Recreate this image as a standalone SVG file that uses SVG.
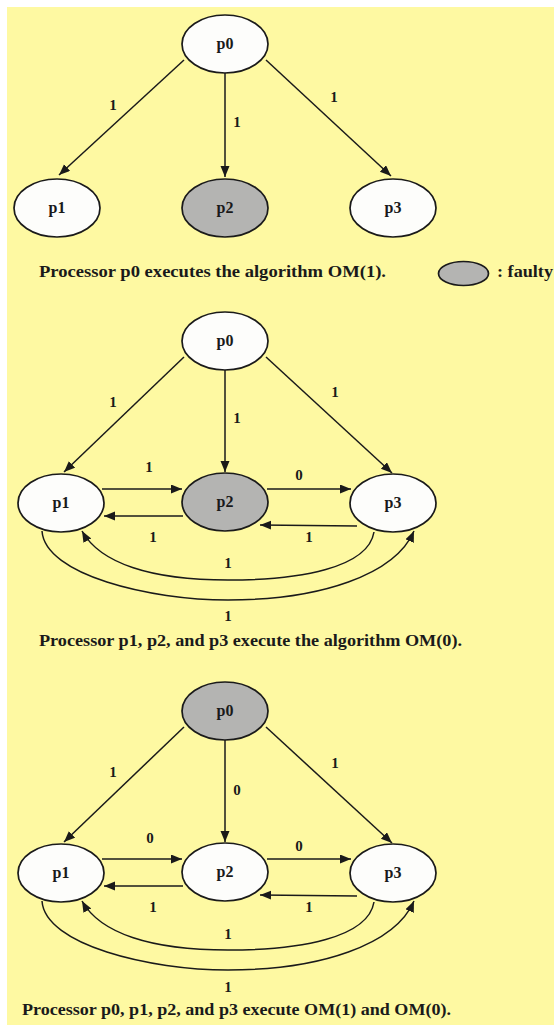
<svg xmlns="http://www.w3.org/2000/svg" width="554" height="1025" viewBox="0 0 554 1025">
<style>
.n{stroke:#1a1a1a;stroke-width:1.7}
.w{fill:#fdfdfb}
.g{fill:#b4b4b2}
.e{fill:none;stroke:#1a1a1a;stroke-width:1.5;marker-end:url(#ah)}
text{font-family:"Liberation Serif","Times New Roman",serif;font-weight:bold;fill:#1a1a1a}
.nl{font-size:16px;text-anchor:middle}
.el{font-size:15px;text-anchor:middle}
.cap{font-size:16px}
</style>
<defs>
<marker id="ah" markerUnits="userSpaceOnUse" markerWidth="12" markerHeight="10" refX="11" refY="4.5" orient="auto">
<path d="M0,0 L11,4.5 L0,9 z" fill="#1a1a1a"/>
</marker>
</defs>
<rect x="0" y="0" width="554" height="1025" fill="#ffffff"/>
<rect x="7" y="7" width="547" height="1018" fill="#fef9a2"/>

<!-- Diagram 1 -->
<g id="d1-connectors">
<path class="e" d="M184,60 L59,175"/>
<path class="e" d="M225,73 L225,177"/>
<path class="e" d="M266,60 L391,176"/>
<text class="el" x="113" y="110">1</text>
<text class="el" x="237" y="127">1</text>
<text class="el" x="334" y="102">1</text>
</g>
<g id="d1-p0"><ellipse class="n w" cx="225" cy="44" rx="43" ry="29"/><text class="nl" x="225" y="49">p0</text></g>
<g id="d1-p1"><ellipse class="n w" cx="57" cy="208" rx="43" ry="29"/><text class="nl" x="57" y="213">p1</text></g>
<g id="d1-p2"><ellipse class="n g" cx="225" cy="208" rx="43" ry="29"/><text class="nl" x="225" y="213">p2</text></g>
<g id="d1-p3"><ellipse class="n w" cx="393" cy="208" rx="43" ry="29"/><text class="nl" x="393" y="213">p3</text></g>
<text class="cap" x="39" y="277" textLength="347" lengthAdjust="spacingAndGlyphs">Processor p0 executes the algorithm OM(1).</text>
<g id="legend">
<ellipse class="n g" cx="463.5" cy="273.5" rx="25" ry="12"/>
<text class="cap" x="497" y="277" textLength="56" lengthAdjust="spacingAndGlyphs">: faulty</text>
</g>

<!-- Diagram 2 -->
<g id="d2-connectors">
<path class="e" d="M184,357 L64,472"/>
<path class="e" d="M225,370 L225,472"/>
<path class="e" d="M266,357 L392,473"/>
<path class="e" d="M102,489 L182,489"/>
<path class="e" d="M183,516 L104,516"/>
<path class="e" d="M267,489 L351,489"/>
<path class="e" d="M357,526 L260,525"/>
<path class="e" d="M374,532 C368,568 300,580 228,580 C150,580 100,563 82,531"/>
<path class="e" d="M42,531 C45,575 150,600 228,600 C320,600 395,575 414,531"/>
<text class="el" x="113" y="407">1</text>
<text class="el" x="237" y="423">1</text>
<text class="el" x="335" y="397">1</text>
<text class="el" x="149" y="472">1</text>
<text class="el" x="153" y="542">1</text>
<text class="el" x="299" y="480">0</text>
<text class="el" x="309" y="542">1</text>
<text class="el" x="228" y="568">1</text>
<text class="el" x="228" y="621">1</text>
</g>
<g id="d2-p0"><ellipse class="n w" cx="225" cy="341" rx="43" ry="29"/><text class="nl" x="225" y="346">p0</text></g>
<g id="d2-p1"><ellipse class="n w" cx="61" cy="503" rx="43" ry="29"/><text class="nl" x="61" y="508">p1</text></g>
<g id="d2-p2"><ellipse class="n g" cx="225" cy="502" rx="43" ry="29"/><text class="nl" x="225" y="507">p2</text></g>
<g id="d2-p3"><ellipse class="n w" cx="393" cy="503" rx="43" ry="29"/><text class="nl" x="393" y="508">p3</text></g>
<text class="cap" x="39" y="646" textLength="423" lengthAdjust="spacingAndGlyphs">Processor p1, p2, and p3 execute the algorithm OM(0).</text>

<!-- Diagram 3 -->
<g transform="translate(0,370)">
<g id="d3-connectors">
<path class="e" d="M184,357 L64,472"/>
<path class="e" d="M225,370 L225,472"/>
<path class="e" d="M266,357 L392,473"/>
<path class="e" d="M102,489 L182,489"/>
<path class="e" d="M183,516 L104,516"/>
<path class="e" d="M267,489 L351,489"/>
<path class="e" d="M357,526 L260,525"/>
<path class="e" d="M374,532 C368,568 300,580 228,580 C150,580 100,563 82,531"/>
<path class="e" d="M42,531 C45,575 150,600 228,600 C320,600 395,575 414,531"/>
<text class="el" x="113" y="407">1</text>
<text class="el" x="237" y="425">0</text>
<text class="el" x="335" y="398">1</text>
<text class="el" x="150" y="473">0</text>
<text class="el" x="153" y="542">1</text>
<text class="el" x="299" y="481">0</text>
<text class="el" x="309" y="542">1</text>
<text class="el" x="228" y="569">1</text>
<text class="el" x="228" y="622">1</text>
</g>
<g id="d3-p0"><ellipse class="n g" cx="225" cy="341" rx="43" ry="29"/><text class="nl" x="225" y="346">p0</text></g>
<g id="d3-p1"><ellipse class="n w" cx="61" cy="503" rx="43" ry="29"/><text class="nl" x="61" y="508">p1</text></g>
<g id="d3-p2"><ellipse class="n w" cx="225" cy="502" rx="43" ry="29"/><text class="nl" x="225" y="507">p2</text></g>
<g id="d3-p3"><ellipse class="n w" cx="393" cy="503" rx="43" ry="29"/><text class="nl" x="393" y="508">p3</text></g>
</g>
<text class="cap" x="22" y="1015" textLength="429" lengthAdjust="spacingAndGlyphs">Processor p0, p1, p2, and p3 execute OM(1) and OM(0).</text>
</svg>
